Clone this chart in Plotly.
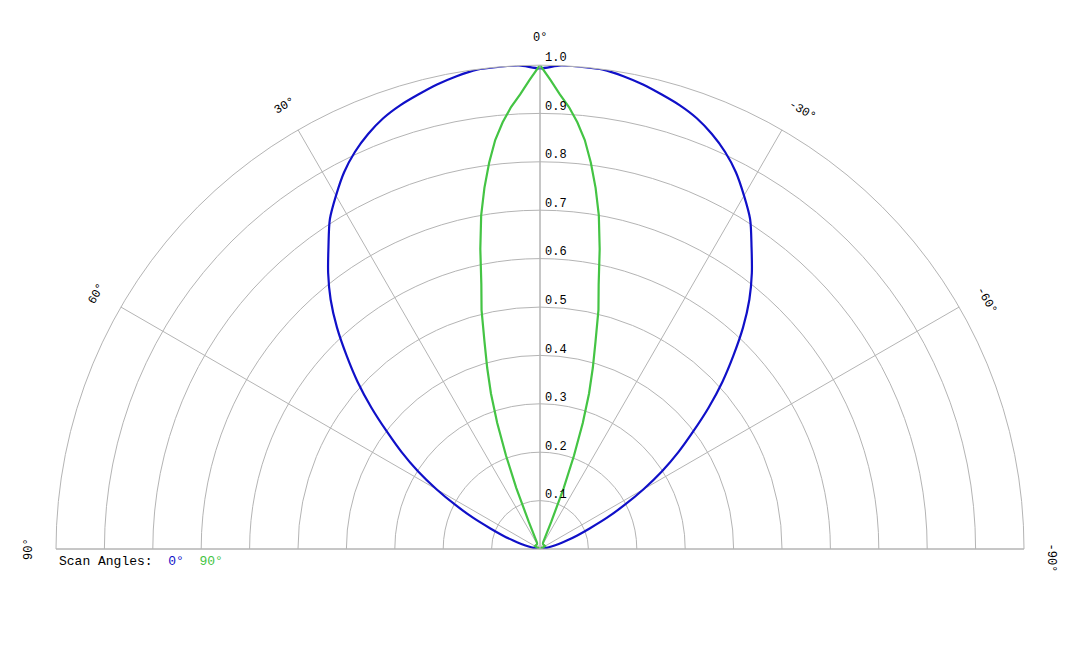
import math
import plotly.graph_objects as go

# scan angle 0 deg pattern (blue)
theta_blue = [-90, -85, -80, -77.5, -75, -72.5, -70, -67.5, -65, -62.5, -60, -57.5, -55, -52.5, -50,
              -47.5, -45, -42.5, -40, -37.5, -35, -32.5, -30, -27.5, -25, -22.5, -20, -17.5, -15,
              -12.5, -10, -7.5, -5, -2.5, 0, 2.5, 5, 7.5, 10, 12.5, 15, 17.5, 20, 22.5, 25, 27.5,
              30, 32.5, 35, 37.5, 40, 42.5, 45, 47.5, 50, 52.5, 55, 57.5, 60, 62.5, 65, 67.5, 70,
              72.5, 75, 77.5, 80, 85, 90]
r_blue = [0.0, 0.004, 0.014, 0.024, 0.04, 0.058, 0.082, 0.111, 0.152, 0.197, 0.247, 0.299, 0.349,
          0.399, 0.455, 0.511, 0.565, 0.621, 0.673, 0.719, 0.762, 0.808, 0.843, 0.877, 0.905, 0.928,
          0.947, 0.961, 0.972, 0.983, 0.992, 0.999, 1.0, 1.0, 0.993, 1.0, 1.0, 0.999, 0.992, 0.983,
          0.972, 0.961, 0.947, 0.928, 0.905, 0.877, 0.843, 0.808, 0.762, 0.719, 0.673, 0.621, 0.565,
          0.511, 0.455, 0.399, 0.349, 0.299, 0.247, 0.197, 0.152, 0.111, 0.082, 0.058, 0.04, 0.024,
          0.014, 0.004, 0.0]

# scan angle 90 deg pattern (green)
theta_green = [-90, -60, -30, -25, -23.75, -22.5, -21.25, -20, -18.75, -17.5, -16.25, -15, -13.75,
               -12.5, -11.25, -10, -8.75, -7.5, -6.25, -5, -3.75, -2.5, -1.25, 0, 1.25, 2.5, 3.75,
               5, 6.25, 7.5, 8.75, 10, 11.25, 12.5, 13.75, 15, 16.25, 17.5, 18.75, 20, 21.25, 22.5,
               23.75, 25, 30, 60, 90]
r_green = [0.0, 0.012, 0.012, 0.015, 0.025, 0.06, 0.135, 0.205, 0.275, 0.337, 0.39, 0.443, 0.508,
           0.56, 0.632, 0.70, 0.755, 0.805, 0.85, 0.885, 0.915, 0.94, 0.97, 1.0, 0.97, 0.94, 0.915,
           0.885, 0.85, 0.805, 0.755, 0.70, 0.632, 0.56, 0.508, 0.443, 0.39, 0.337, 0.275, 0.205,
           0.135, 0.06, 0.025, 0.015, 0.012, 0.012, 0.0]

radial_ticks = [0.1, 0.2, 0.3, 0.4, 0.5, 0.6, 0.7, 0.8, 0.9, 1.0]
angle_ticks = [90, 60, 30, 0, -30, -60, -90]
angle_labels = ['90°', '60°', '30°', '0°', '-30°', '-60°', '-90°']

BLUE = '#1010c8'
GREEN = '#44c444'
GRID = '#b4b4b4'
TEXT = '#000000'
FONT = 'Liberation Mono'

# page body has an 8px margin, so the figure is 16px smaller than the window
W, H = 1064, 632
top_px, radius_px = 57, 484
dom_y1 = 1 - top_px / H
dom_y0 = dom_y1 - radius_px / H
cx_px, cy_px = W / 2, top_px + radius_px

fig = go.Figure()

fig.add_trace(go.Scatterpolar(
    r=r_blue, theta=theta_blue, mode='lines',
    line=dict(color=BLUE, width=2.2, shape='spline', smoothing=0.8),
    name='0°', hoverinfo='skip'
))
fig.add_trace(go.Scatterpolar(
    r=r_green, theta=theta_green, mode='lines',
    line=dict(color=GREEN, width=2.2),
    name='90°', hoverinfo='skip'
))

fig.update_layout(
    width=W, height=H,
    margin=dict(l=0, r=0, t=0, b=0),
    paper_bgcolor='white',
    showlegend=False,
    font=dict(family=FONT, size=12, color=TEXT),
    polar=dict(
        domain=dict(x=[0, 1], y=[dom_y0, dom_y1]),
        sector=[0, 180],
        bgcolor='white',
        angularaxis=dict(
            rotation=90, direction='counterclockwise',
            tickmode='array', tickvals=angle_ticks,
            showticklabels=False, ticks='',
            showgrid=True, gridcolor=GRID, gridwidth=1,
            showline=True, linecolor=GRID, linewidth=1,
        ),
        radialaxis=dict(
            range=[0, 1], angle=90,
            tickmode='array', tickvals=radial_ticks,
            showticklabels=False, ticks='',
            showgrid=True, gridcolor=GRID, gridwidth=1,
            showline=True, linecolor=GRID, linewidth=1,
        ),
    ),
)

# radial tick labels, just above-right of each ring on the 0 deg spoke
for v in radial_ticks:
    py = cy_px - v * radius_px - 5 - v * 2
    fig.add_annotation(
        x=(cx_px + 3) / W, y=1 - py / H, xref='paper', yref='paper',
        text='%.1f' % v, showarrow=False, xanchor='left', yanchor='middle',
        font=dict(family=FONT, size=12, color=TEXT)
    )

# angular labels, turned to follow the arc; minus-sign labels sit a bit further along
label_px = 511
for ang, lab in zip(angle_ticks, angle_labels):
    a = math.radians(ang)
    px = cx_px - label_px * math.sin(a)
    py = cy_px - label_px * math.cos(a)
    if lab.startswith('-'):
        px += 8.5 * math.cos(-a)
        py += 8.5 * math.sin(-a)
    fig.add_annotation(
        x=px / W, y=1 - py / H, xref='paper', yref='paper',
        text=lab, showarrow=False, textangle=-ang,
        xanchor='center', yanchor='middle',
        font=dict(family=FONT, size=12, color=TEXT)
    )

# scan angle key under the left edge
fig.add_annotation(
    x=49 / W, y=1 - 553 / H, xref='paper', yref='paper',
    text='Scan Angles:  <span style="color:%s">0°</span>  <span style="color:%s">90°</span>' % (BLUE, GREEN),
    showarrow=False, xanchor='left', yanchor='middle',
    font=dict(family=FONT, size=13, color=TEXT)
)

fig.write_html('out.html')
